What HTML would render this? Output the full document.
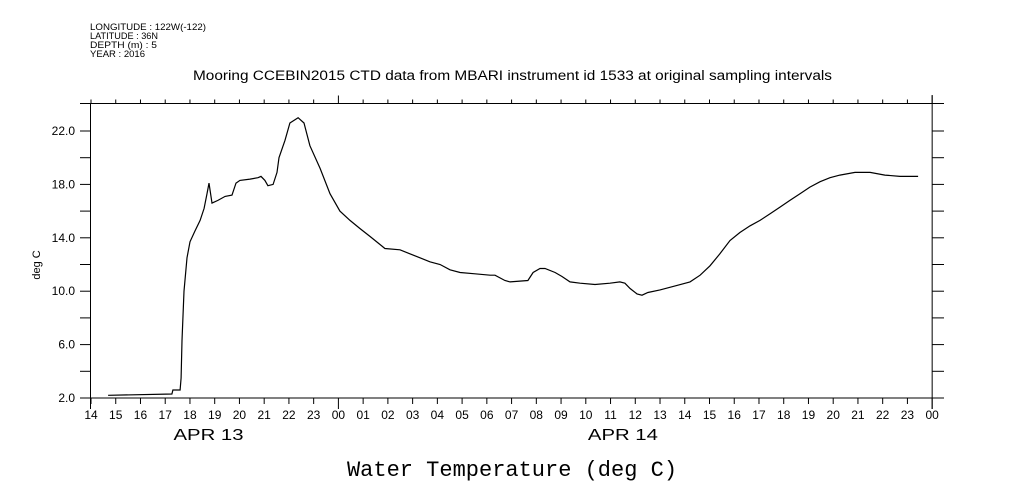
<!DOCTYPE html>
<html><head><meta charset="utf-8"><style>
body{margin:0;background:#fff;}
svg{display:block;font-family:"Liberation Sans",sans-serif;}
</style></head><body>
<svg width="1009" height="504" viewBox="0 0 1009 504">
<g font-size="9" fill="#000">
<text x="90" y="30" textLength="116" lengthAdjust="spacingAndGlyphs">LONGITUDE : 122W(-122)</text>
<text x="90" y="39" textLength="68" lengthAdjust="spacingAndGlyphs">LATITUDE : 36N</text>
<text x="90" y="48" textLength="67" lengthAdjust="spacingAndGlyphs">DEPTH (m) : 5</text>
<text x="90" y="57" textLength="55" lengthAdjust="spacingAndGlyphs">YEAR : 2016</text>
</g>
<text x="193" y="80" font-size="13.5" textLength="639" lengthAdjust="spacingAndGlyphs">Mooring CCEBIN2015 CTD data from MBARI instrument id 1533 at original sampling intervals</text>
<text transform="translate(40,265) rotate(-90)" font-size="11" text-anchor="middle">deg C</text>
<text x="512" y="476" font-size="22" font-family="Liberation Mono, monospace" text-anchor="middle">Water Temperature (deg C)</text>
<g id="axes" stroke="#000" stroke-width="1" fill="none"></g>
<g id="labels" font-size="12" fill="#000"></g>
<path id="line" stroke="#000" stroke-width="1.2" fill="none"/>
</svg>
<script>
const hours=[0.69,3.27,3.31,3.60,3.64,3.68,3.76,3.88,4.00,4.20,4.41,4.57,4.69,4.77,4.89,5.13,5.42,5.70,5.86,6.02,6.43,6.75,6.87,7.03,7.15,7.36,7.52,7.60,7.84,8.04,8.37,8.61,8.85,9.26,9.66,10.06,10.47,10.87,11.28,11.68,11.88,12.49,12.89,13.30,13.70,14.11,14.51,14.92,15.52,16.13,16.33,16.73,16.94,17.66,17.87,18.15,18.35,18.76,19.04,19.36,19.77,20.37,20.98,21.38,21.58,21.79,22.07,22.27,22.51,23.00,23.61,24.21,24.62,25.02,25.42,25.83,26.23,26.64,27.04,27.45,27.85,28.25,28.66,29.06,29.47,29.87,30.27,30.88,31.49,32.09,32.70,33.43];
const temps=[2.2,2.3,2.6,2.6,3.5,6.3,10.0,12.5,13.7,14.5,15.3,16.2,17.3,18.1,16.6,16.8,17.1,17.2,18.1,18.3,18.4,18.5,18.6,18.3,17.9,18.0,18.9,20.0,21.3,22.6,23.0,22.6,20.9,19.2,17.3,16.0,15.3,14.7,14.1,13.5,13.2,13.1,12.8,12.5,12.2,12.0,11.6,11.4,11.3,11.2,11.2,10.8,10.7,10.8,11.4,11.7,11.7,11.4,11.1,10.7,10.6,10.5,10.6,10.7,10.6,10.2,9.8,9.7,9.9,10.1,10.4,10.7,11.2,11.9,12.8,13.8,14.4,14.9,15.3,15.8,16.3,16.8,17.3,17.8,18.2,18.5,18.7,18.9,18.9,18.7,18.6,18.6];
const yTicks=[2,6,10,14,18,22];
const yTickLabels=["2.0","6.0","10.0","14.0","18.0","22.0"];
const hourLabels=["14","15","16","17","18","19","20","21","22","23","00","01","02","03","04","05","06","07","08","09","10","11","12","13","14","15","16","17","18","19","20","21","22","23","00"];
const dayLabels=["APR 13","APR 14"];
const dayPos=[4.75,21.5];
const X0=91,PXH=24.74,Y0=398,PXT=13.35;
const sx=h=>X0+h*PXH, sy=t=>Y0-(t-2)*PXT;
const NS='http://www.w3.org/2000/svg';
const ax=document.getElementById('axes'),lb=document.getElementById('labels');
function ln(x1,y1,x2,y2,n){const l=document.createElementNS(NS,'line');l.setAttribute('x1',x1);l.setAttribute('y1',y1);l.setAttribute('x2',x2);l.setAttribute('y2',y2);


ax.appendChild(l);}
function tx(x,y,s,a,fs,n,tl){const t=document.createElementNS(NS,'text');t.setAttribute('x',x);t.setAttribute('y',y);t.setAttribute('text-anchor',a);if(fs)t.setAttribute('font-size',fs);if(tl){t.setAttribute('textLength',tl);t.setAttribute('lengthAdjust','spacingAndGlyphs');}t.textContent=s;


lb.appendChild(t);}
const R=sx(34),T=103.5;
ln(80,Y0,944,Y0,'x-axis-bottom');ln(80,T,944,T,'x-axis-top');
ln(90.5,T,90.5,409,'y-axis-left');ln(R,95,R,409,'y-axis-right');
for(let i=0;i<=34;i++){const x=sx(i),big=(hourLabels[i]==="00");
ln(x,Y0,x,Y0+(big?11:6),'x-tick-bottom');ln(x,T,x,T-(big?8:4),'x-tick-top');
tx(x,419,hourLabels[i],'middle',null,'x-tick-label');}
for(let v=2;v<=22;v+=2){const y=sy(v);ln(80,y,90.5,y,'y-tick-left');ln(R,y,944,y,'y-tick-right');}
yTicks.forEach((v,i)=>tx(75,sy(v)+4,yTickLabels[i],'end',null,'y-tick-label'));
dayLabels.forEach((d,i)=>tx(sx(dayPos[i]),440,d,'middle',16,'day-label',70));
document.getElementById('line').setAttribute('d',hours.map((h,i)=>(i?'L':'M')+sx(h).toFixed(1)+' '+sy(temps[i]).toFixed(1)).join(' '));
</script>
</body></html>
